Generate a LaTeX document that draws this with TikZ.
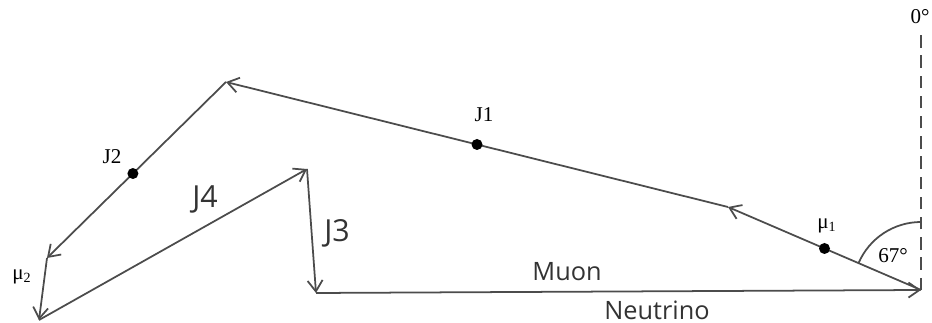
\documentclass[tikz,border=0pt]{standalone}
\usepackage{fontspec}
\setmainfont{Liberation Serif}
\newfontfamily\handfont{Open Sans}
\usetikzlibrary{arrows.meta,calc}
\tikzset{
  evvec/.style={-{Straight Barb[length=2.2mm,width=3mm]}, line width=1pt, draw=black!70},
  evaxis/.style={line width=1pt, draw=black!70, dash pattern=on 7pt off 4.5pt},
  evdot/.style={circle, fill=black, inner sep=0pt, minimum size=2.2mm},
  evlab/.style={font=\large, inner sep=1pt},
  evhand/.style={font=\handfont\Large, inner sep=1pt, text=black!80},
}
\begin{document}
\begin{tikzpicture}[x=0.02cm, y=0.02cm]
  \useasboundingbox (0,0) rectangle (932,323);

  \coordinate (O) at (921,33);
  \coordinate (m1) at (728,116);
  \coordinate (top) at (226,241);
  \coordinate (m2) at (47,65);
  \coordinate (low) at (39,3);
  \coordinate (peak) at (307,154);
  \coordinate (nu) at (316,30);
  \coordinate (zero) at (921,291);

  \draw[evaxis] (O) -- (zero);
  \draw[line width=1pt, draw=black!70] ($(O)+(90:68)$) arc[start angle=90, end angle=156.7, radius=68];

  \draw[evvec] (O) -- (m1);
  \draw[evvec] (m1) -- (top);
  \draw[evvec] (top) -- (m2);
  \draw[evvec] (m2) -- (low);
  \draw[evvec] (low) -- (peak);
  \draw[evvec] (peak) -- (nu);
  \draw[evvec] (nu) -- (O);

  \node[evdot] (mu1dot) at ($(O)!0.5!(m1)$) {};
  \node[evdot] (j1dot) at ($(m1)!0.5!(top)$) {};
  \node[evdot] (j2dot) at ($(top)!0.52!(m2)$) {};

  \node[evlab] (j1lab) at (484,208) {J1};
  \node[evlab] (j2lab) at (112,166) {J2};
  \node[evlab] (mu1lab) at (827,97) {μ\textsubscript{1}};
  \node[evlab] (mu2lab) at (22,46) {μ\textsubscript{2}};
  \node[evlab] (anglab) at (893,67) {67°};
  \node[evlab] (zerolab) at (920,306) {0°};

  \node[evhand, font=\handfont\LARGE] (j4lab) at (205,124) {J4};
  \node[evhand, font=\handfont\LARGE] (j3lab) at (337,90) {J3};
  \node[evhand] (muonlab) at (567,51) {Muon};
  \node[evhand] (nulab) at (657,13) {Neutrino};
\end{tikzpicture}
\end{document}
